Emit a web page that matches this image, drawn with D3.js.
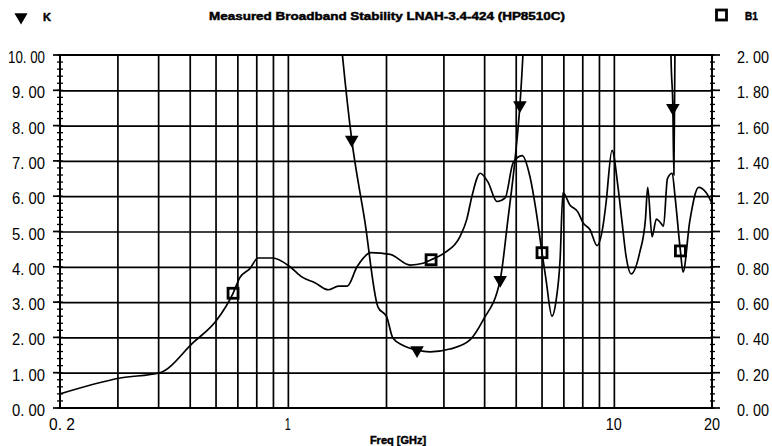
<html>
<head>
<script src="https://d3js.org/d3.v7.min.js"></script>
<style>
  body { margin: 0; background: #fff; }
  .grid .domain { display: none; }
  .grid line { stroke: #000; stroke-width: 1.7; }
  text { fill: #000; }
  .heavy { stroke: #000; stroke-width: 0.45; }
</style>
</head>
<body>
<svg id="chart" width="772" height="446"></svg>
<script>
  // K (left axis) — values above 10 run off the top of the chart
  const kFreq = [1.35, 1.47, 1.57, 1.72, 1.89, 2.01, 2.10, 2.25, 2.49, 2.73, 3.14, 3.62, 3.97, 4.48, 4.73, 4.98, 5.15, 5.26, 5.45,
                 14.8, 14.97, 15.17, 15.28, 15.39, 15.6];
  const kVal = [14, 10, 7.6, 5.33, 2.86, 2.58, 1.98, 1.78, 1.64, 1.59, 1.67, 1.93, 2.49, 3.63, 5.33, 7.08, 8.58, 10, 14,
                14, 10, 8.5, 6.6, 10, 14];
  const kMarks = [2, 8, 13, 16, 21];

  // B1 (right axis)
  const b1Freq = [0.2, 0.306, 0.405, 0.512, 0.606, 0.679, 0.713, 0.765, 0.81, 0.90, 1.015, 1.11, 1.21, 1.33, 1.43, 1.52,
                  1.63, 1.80, 2.06, 2.37, 2.60, 2.75, 3.03, 3.37, 3.54, 3.67, 3.89, 4.11, 4.38, 4.64, 4.91, 5.23, 5.53,
                  5.77, 6.02, 6.19, 6.46, 6.65, 6.84, 6.98, 7.33, 7.76, 8.04, 8.45, 8.88, 9.26, 9.46, 9.87, 10.3, 10.6,
                  10.9, 11.3, 12.0, 12.5, 12.7, 13.1, 13.5, 13.9, 14.2, 14.6, 15.1, 15.4, 16.0, 16.3, 17.1, 18.2, 19.2, 20];
  const b1Val = [0.08, 0.17, 0.20, 0.37, 0.50, 0.65, 0.74, 0.79, 0.85, 0.85, 0.80, 0.74, 0.71, 0.67, 0.69, 0.69,
                 0.80, 0.88, 0.87, 0.81, 0.82, 0.84, 0.88, 0.97, 1.07, 1.20, 1.33, 1.28, 1.17, 1.19, 1.39, 1.43, 1.31,
                 1.12, 0.88, 0.73, 0.52, 0.61, 0.84, 1.22, 1.15, 1.11, 1.05, 1.01, 0.92, 1.03, 1.16, 1.46, 1.25, 1.05,
                 0.86, 0.76, 0.88, 1.07, 1.25, 0.97, 1.07, 1.05, 1.03, 1.30, 1.33, 1.20, 0.89, 0.77, 1.06, 1.25, 1.22, 1.16];
  const b1Marks = [5, 21, 34, 62];

  const leftTicks = [0, 1, 2, 3, 4, 5, 6, 7, 8, 9, 10];
  const rightTicks = [0, 0.2, 0.4, 0.6, 0.8, 1.0, 1.2, 1.4, 1.6, 1.8, 2.0];
  const xLabels = [0.2, 1, 10, 20];
  const xGrid = [0.3, 0.4, 0.5, 0.6, 0.7, 0.8, 0.9, 1, 2, 3, 4, 5, 6, 7, 8, 9, 10];

  const L = 60, R = 712, T = 55, B = 408;
  const svg = d3.select("#chart");

  const x = d3.scaleLog().domain([0.2, 20]).range([L, R]);
  const yL = d3.scaleLinear().domain([0, 10]).range([B, T]);
  const yR = d3.scaleLinear().domain([0, 2]).range([B, T]);
  const fmt = v => d3.format(".2f")(v).replace(".", ". ");

  // gridlines
  svg.append("g").attr("class", "grid")
    .attr("transform", `translate(0,${B})`)
    .call(d3.axisBottom(x).tickValues(xGrid).tickSize(-(B - T)).tickFormat(""));
  svg.append("g").attr("class", "grid")
    .attr("transform", `translate(${L},0)`)
    .call(d3.axisLeft(yL).tickValues(leftTicks.slice(1, -1)).tickSize(-(R - L)).tickFormat(""));

  svg.append("rect").attr("x", L).attr("y", T).attr("width", R - L).attr("height", B - T)
    .attr("fill", "none").attr("stroke", "#000").attr("stroke-width", 2);

  // minor ticks
  const minorL = d3.range(0, 10.001, 0.2);
  svg.append("g").selectAll("line").data(minorL).join("line")
    .attr("x1", L - 3).attr("x2", L + 3).attr("y1", d => yL(d)).attr("y2", d => yL(d))
    .attr("stroke", "#000").attr("stroke-width", 1.3);
  svg.append("g").selectAll("line").data(leftTicks).join("line")
    .attr("x1", L - 7).attr("x2", L).attr("y1", d => yL(d)).attr("y2", d => yL(d))
    .attr("stroke", "#000").attr("stroke-width", 1.7);
  const minorR = d3.range(0, 2.001, 0.04);
  svg.append("g").selectAll("line").data(minorR).join("line")
    .attr("x1", R - 2).attr("x2", R + 3).attr("y1", d => yR(d)).attr("y2", d => yR(d))
    .attr("stroke", "#000").attr("stroke-width", 1.3);
  svg.append("g").selectAll("line").data(rightTicks).join("line")
    .attr("x1", R).attr("x2", R + 8).attr("y1", d => yR(d)).attr("y2", d => yR(d))
    .attr("stroke", "#000").attr("stroke-width", 1.7);

  // tick labels
  svg.append("g").selectAll("text").data(leftTicks).join("text")
    .attr("x", 45).attr("y", d => yL(d) + 8)
    .attr("text-anchor", "end")
    .style("font", "16px 'Liberation Sans', Arial, sans-serif")
    .attr("textLength", d => d >= 10 ? 37 : 33).attr("lengthAdjust", "spacingAndGlyphs")
    .text(fmt);
  svg.append("g").selectAll("text").data(rightTicks).join("text")
    .attr("x", 737).attr("y", d => yR(d) + 8)
    .style("font", "16px 'Liberation Sans', Arial, sans-serif")
    .attr("textLength", 32).attr("lengthAdjust", "spacingAndGlyphs")
    .text(fmt);
  svg.append("g").selectAll("text").data(xLabels).join("text")
    .attr("x", d => x(d) + (d === 0.2 ? 2 : 0)).attr("y", 430)
    .attr("text-anchor", "middle")
    .style("font", "16px 'Liberation Sans', Arial, sans-serif")
    .attr("textLength", d => d === 0.2 ? 26 : d >= 10 ? 16 : 6).attr("lengthAdjust", "spacingAndGlyphs")
    .text(d => d === 0.2 ? "0. 2" : String(d));

  svg.append("text").attr("class", "heavy").attr("x", 398).attr("y", 444).attr("text-anchor", "middle")
    .style("font", "bold 11px 'Liberation Sans', Arial, sans-serif")
    .text("Freq [GHz]");

  svg.append("text").attr("class", "heavy").attr("x", 387).attr("y", 20).attr("text-anchor", "middle")
    .style("font", "bold 11px 'Liberation Sans', Arial, sans-serif")
    .attr("textLength", 356).attr("lengthAdjust", "spacingAndGlyphs")
    .text("Measured Broadband Stability LNAH-3.4-424 (HP8510C)");

  // legend
  const tri = d3.symbol().type(d3.symbolTriangle).size(75);
  svg.append("path").attr("d", tri).attr("transform", "translate(21,17) rotate(180)").attr("fill", "#000");
  svg.append("text").attr("class", "heavy").attr("x", 43).attr("y", 21)
    .style("font", "bold 11px 'Liberation Sans', Arial, sans-serif").text("K");
  svg.append("rect").attr("x", 716.5).attr("y", 10).attr("width", 10).attr("height", 10)
    .attr("fill", "none").attr("stroke", "#000").attr("stroke-width", 2.8);
  svg.append("text").attr("class", "heavy").attr("x", 745).attr("y", 20)
    .style("font", "bold 10px 'Liberation Sans', Arial, sans-serif").text("B1");

  // curves
  svg.append("clipPath").attr("id", "plot").append("rect")
    .attr("x", L).attr("y", T).attr("width", R - L).attr("height", B - T);
  const plot = svg.append("g").attr("clip-path", "url(#plot)");

  const kLine = d3.line().x(i => x(kFreq[i])).y(i => yL(kVal[i])).curve(d3.curveMonotoneX);
  const bLine = d3.line().x(i => x(b1Freq[i])).y(i => yR(b1Val[i])).curve(d3.curveMonotoneX);

  plot.append("path").attr("d", bLine(d3.range(b1Freq.length)))
    .attr("fill", "none").attr("stroke", "#000").attr("stroke-width", 1.7);
  plot.append("path").attr("d", kLine(d3.range(kFreq.length)))
    .attr("fill", "none").attr("stroke", "#000").attr("stroke-width", 1.7);

  svg.append("g").selectAll("path").data(kMarks).join("path")
    .attr("d", d3.symbol().type(d3.symbolTriangle).size(80))
    .attr("transform", i => `translate(${x(kFreq[i])},${yL(kVal[i])}) rotate(180)`)
    .attr("fill", "#000");
  svg.append("g").selectAll("rect").data(b1Marks).join("rect")
    .attr("x", i => x(b1Freq[i]) - 5).attr("y", i => yR(b1Val[i]) - 5)
    .attr("width", 10).attr("height", 10)
    .attr("fill", "none").attr("stroke", "#000").attr("stroke-width", 2.8);
</script>
</body>
</html>
